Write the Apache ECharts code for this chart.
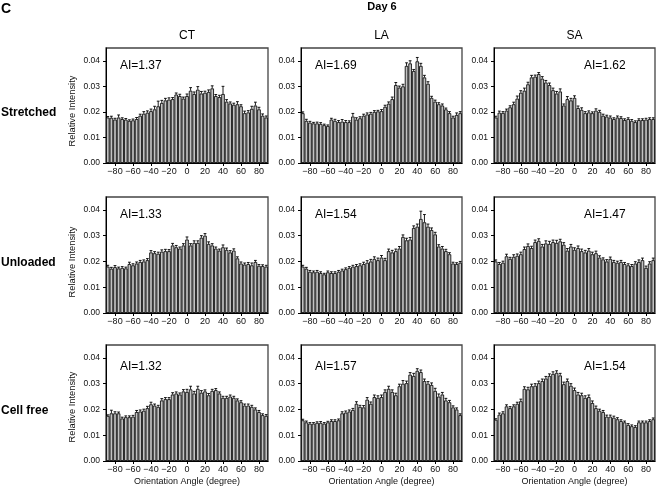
<!DOCTYPE html>
<html><head><meta charset="utf-8">
<script src="https://cdn.jsdelivr.net/npm/echarts@6/dist/echarts.min.js"></script>
<style>html,body{margin:0;padding:0;background:#fff}#c{width:656px;height:491px}</style>
</head><body><div id="c"></div>
<script>
// Bin centres (degrees)
const angleBins = [-88,-84,-80,-76,-72,-68,-64,-60,-56,-52,
  -48,-44,-40,-36,-32,-28,-24,-20,-16,-12,
  -8,-4,0,4,8,12,16,20,24,28,
  32,36,40,44,48,52,56,60,64,68,
  72,76,80,84,88];
const xTickValues = [-80,-60,-40,-20,0,20,40,60,80];
const yTickValues = [0,0.01,0.02,0.03,0.04];
const columnTitles = ['CT','LA','SA'];
const rowTitles = ['Stretched','Unloaded','Cell free'];
const aiLabels = [['AI=1.37','AI=1.69','AI=1.62'],['AI=1.33','AI=1.54','AI=1.47'],['AI=1.32','AI=1.57','AI=1.54']];

// ---- Stretched ----
const ctStretched = [0.0178,0.0177,0.0170,0.0178,0.0172,0.0170,0.0165,0.0167,0.0172,0.0185,
  0.0193,0.0197,0.0203,0.0210,0.0222,0.0235,0.0245,0.0248,0.0250,0.0268,
  0.0262,0.0252,0.0262,0.0283,0.0270,0.0287,0.0272,0.0275,0.0278,0.0292,
  0.0262,0.0258,0.0270,0.0240,0.0233,0.0228,0.0230,0.0222,0.0195,0.0198,
  0.0212,0.0225,0.0210,0.0185,0.0178];
const ctStretchedErr = [0.0004,0.0006,0.0005,0.0010,0.0005,0.0004,0.0004,0.0005,0.0006,0.0006,
  0.0008,0.0007,0.0008,0.0012,0.0020,0.0010,0.0008,0.0007,0.0006,0.0006,
  0.0007,0.0006,0.0008,0.0012,0.0008,0.0012,0.0008,0.0006,0.0008,0.0010,
  0.0006,0.0007,0.0030,0.0008,0.0006,0.0006,0.0010,0.0006,0.0008,0.0007,
  0.0010,0.0013,0.0008,0.0007,0.0006];
const laStretched = [0.0195,0.0165,0.0158,0.0155,0.0155,0.0153,0.0148,0.0145,0.0170,0.0165,
  0.0160,0.0162,0.0160,0.0160,0.0182,0.0170,0.0175,0.0185,0.0190,0.0193,
  0.0200,0.0202,0.0203,0.0220,0.0232,0.0250,0.0305,0.0295,0.0300,0.0380,
  0.0390,0.0360,0.0398,0.0380,0.0335,0.0310,0.0255,0.0240,0.0230,0.0225,
  0.0210,0.0195,0.0178,0.0188,0.0195];
const laStretchedErr = [0.0005,0.0006,0.0005,0.0004,0.0005,0.0005,0.0004,0.0004,0.0005,0.0006,
  0.0006,0.0008,0.0006,0.0005,0.0012,0.0007,0.0006,0.0006,0.0006,0.0005,
  0.0005,0.0004,0.0006,0.0006,0.0007,0.0008,0.0010,0.0006,0.0008,0.0012,
  0.0010,0.0006,0.0015,0.0010,0.0008,0.0008,0.0006,0.0006,0.0006,0.0006,
  0.0005,0.0006,0.0005,0.0008,0.0006];
const saStretched = [0.0178,0.0197,0.0196,0.0205,0.0218,0.0230,0.0252,0.0275,0.0283,0.0308,
  0.0335,0.0338,0.0348,0.0330,0.0315,0.0305,0.0285,0.0272,0.0280,0.0225,
  0.0250,0.0245,0.0255,0.0215,0.0208,0.0195,0.0198,0.0195,0.0205,0.0200,
  0.0185,0.0182,0.0178,0.0172,0.0178,0.0176,0.0168,0.0172,0.0165,0.0160,
  0.0168,0.0168,0.0170,0.0172,0.0172];
const saStretchedErr = [0.0005,0.0006,0.0005,0.0006,0.0006,0.0008,0.0010,0.0008,0.0010,0.0008,
  0.0008,0.0006,0.0006,0.0008,0.0008,0.0008,0.0008,0.0008,0.0010,0.0006,
  0.0010,0.0008,0.0008,0.0008,0.0008,0.0006,0.0006,0.0005,0.0007,0.0006,
  0.0006,0.0005,0.0006,0.0005,0.0006,0.0005,0.0005,0.0005,0.0005,0.0005,
  0.0005,0.0005,0.0005,0.0005,0.0005];

// ---- Unloaded ----
const ctUnloaded = [0.0180,0.0172,0.0178,0.0173,0.0175,0.0173,0.0190,0.0185,0.0192,0.0198,
  0.0200,0.0205,0.0235,0.0232,0.0230,0.0238,0.0240,0.0240,0.0262,0.0255,
  0.0250,0.0262,0.0285,0.0262,0.0272,0.0272,0.0292,0.0300,0.0268,0.0262,
  0.0250,0.0242,0.0255,0.0245,0.0235,0.0242,0.0212,0.0192,0.0188,0.0190,
  0.0185,0.0198,0.0183,0.0182,0.0180];
const ctUnloadedErr = [0.0005,0.0005,0.0006,0.0005,0.0005,0.0005,0.0007,0.0006,0.0006,0.0006,
  0.0006,0.0006,0.0007,0.0006,0.0006,0.0007,0.0007,0.0006,0.0008,0.0007,
  0.0006,0.0007,0.0010,0.0007,0.0008,0.0008,0.0008,0.0008,0.0008,0.0007,
  0.0006,0.0006,0.0009,0.0007,0.0007,0.0007,0.0006,0.0006,0.0006,0.0006,
  0.0009,0.0006,0.0005,0.0005,0.0005];
const laUnloaded = [0.0180,0.0172,0.0160,0.0158,0.0160,0.0155,0.0150,0.0158,0.0155,0.0155,
  0.0160,0.0165,0.0170,0.0175,0.0180,0.0182,0.0185,0.0190,0.0195,0.0200,
  0.0210,0.0205,0.0215,0.0205,0.0240,0.0235,0.0240,0.0250,0.0295,0.0282,
  0.0285,0.0330,0.0335,0.0365,0.0352,0.0335,0.0322,0.0305,0.0258,0.0250,
  0.0240,0.0228,0.0192,0.0190,0.0195];
const laUnloadedErr = [0.0005,0.0005,0.0005,0.0005,0.0005,0.0005,0.0004,0.0005,0.0005,0.0005,
  0.0005,0.0005,0.0005,0.0005,0.0005,0.0006,0.0006,0.0007,0.0008,0.0008,
  0.0008,0.0008,0.0008,0.0007,0.0008,0.0008,0.0008,0.0008,0.0008,0.0008,
  0.0008,0.0008,0.0010,0.0030,0.0030,0.0010,0.0008,0.0008,0.0007,0.0008,
  0.0007,0.0006,0.0005,0.0005,0.0005];
const saUnloaded = [0.0200,0.0190,0.0195,0.0220,0.0210,0.0218,0.0222,0.0228,0.0248,0.0260,
  0.0252,0.0275,0.0280,0.0258,0.0270,0.0268,0.0275,0.0272,0.0278,0.0265,
  0.0242,0.0258,0.0245,0.0252,0.0240,0.0235,0.0242,0.0228,0.0232,0.0215,
  0.0208,0.0200,0.0210,0.0198,0.0195,0.0198,0.0190,0.0185,0.0182,0.0192,
  0.0198,0.0205,0.0175,0.0192,0.0205];
const saUnloadedErr = [0.0006,0.0006,0.0006,0.0008,0.0006,0.0008,0.0007,0.0008,0.0008,0.0008,
  0.0007,0.0008,0.0008,0.0008,0.0010,0.0010,0.0008,0.0010,0.0008,0.0008,
  0.0008,0.0008,0.0008,0.0008,0.0008,0.0008,0.0008,0.0008,0.0008,0.0007,
  0.0006,0.0007,0.0007,0.0006,0.0006,0.0006,0.0006,0.0006,0.0006,0.0007,
  0.0008,0.0008,0.0007,0.0007,0.0008];

// ---- Cell free ----
const ctCellFree = [0.0175,0.0185,0.0185,0.0185,0.0165,0.0170,0.0170,0.0172,0.0190,0.0192,
  0.0195,0.0205,0.0220,0.0215,0.0210,0.0235,0.0240,0.0240,0.0258,0.0262,
  0.0258,0.0270,0.0268,0.0278,0.0262,0.0280,0.0265,0.0270,0.0255,0.0272,
  0.0275,0.0262,0.0245,0.0245,0.0250,0.0245,0.0235,0.0228,0.0215,0.0215,
  0.0210,0.0200,0.0190,0.0178,0.0175];
const ctCellFreeErr = [0.0004,0.0012,0.0006,0.0005,0.0005,0.0005,0.0005,0.0005,0.0006,0.0006,
  0.0006,0.0007,0.0008,0.0006,0.0006,0.0007,0.0006,0.0006,0.0007,0.0006,
  0.0006,0.0007,0.0010,0.0012,0.0008,0.0010,0.0008,0.0006,0.0007,0.0006,
  0.0006,0.0006,0.0006,0.0006,0.0006,0.0006,0.0006,0.0006,0.0006,0.0006,
  0.0006,0.0006,0.0006,0.0005,0.0005];
const laCellFree = [0.0158,0.0150,0.0145,0.0145,0.0148,0.0148,0.0145,0.0150,0.0155,0.0155,
  0.0158,0.0185,0.0188,0.0192,0.0198,0.0222,0.0210,0.0208,0.0238,0.0222,
  0.0248,0.0245,0.0248,0.0268,0.0280,0.0268,0.0255,0.0290,0.0300,0.0302,
  0.0335,0.0330,0.0350,0.0345,0.0310,0.0300,0.0295,0.0272,0.0250,0.0258,
  0.0235,0.0228,0.0208,0.0200,0.0178];
const laCellFreeErr = [0.0004,0.0005,0.0004,0.0004,0.0004,0.0005,0.0004,0.0004,0.0005,0.0005,
  0.0005,0.0006,0.0006,0.0006,0.0006,0.0008,0.0006,0.0007,0.0008,0.0007,
  0.0008,0.0008,0.0008,0.0008,0.0010,0.0008,0.0008,0.0008,0.0012,0.0008,
  0.0008,0.0010,0.0008,0.0008,0.0008,0.0008,0.0008,0.0010,0.0010,0.0008,
  0.0008,0.0007,0.0006,0.0006,0.0005];
const saCellFree = [0.0160,0.0180,0.0185,0.0212,0.0205,0.0212,0.0222,0.0232,0.0280,0.0278,
  0.0290,0.0292,0.0302,0.0310,0.0320,0.0330,0.0338,0.0342,0.0332,0.0298,
  0.0310,0.0292,0.0275,0.0258,0.0255,0.0245,0.0248,0.0225,0.0205,0.0195,
  0.0190,0.0172,0.0172,0.0168,0.0162,0.0155,0.0150,0.0140,0.0135,0.0132,
  0.0150,0.0150,0.0150,0.0155,0.0162];
const saCellFreeErr = [0.0004,0.0006,0.0006,0.0006,0.0006,0.0006,0.0006,0.0008,0.0008,0.0008,
  0.0008,0.0008,0.0008,0.0008,0.0008,0.0008,0.0008,0.0008,0.0008,0.0008,
  0.0008,0.0008,0.0008,0.0008,0.0008,0.0008,0.0008,0.0008,0.0008,0.0006,
  0.0006,0.0006,0.0006,0.0006,0.0006,0.0005,0.0005,0.0005,0.0005,0.0005,
  0.0005,0.0005,0.0005,0.0005,0.0005];

const panelValues = [[ctStretched, laStretched, saStretched],[ctUnloaded, laUnloaded, saUnloaded],[ctCellFree, laCellFree, saCellFree]];
const panelErrors = [[ctStretchedErr, laStretchedErr, saStretchedErr],[ctUnloadedErr, laUnloadedErr, saUnloadedErr],[ctCellFreeErr, laCellFreeErr, saCellFreeErr]];

// ---- layout ----
const FONT = 'Liberation Sans, Arial, Helvetica, sans-serif';
const colLeft = [106, 301, 494];
const colWidth = [162, 161, 161];
const rowTop = [48, 197, 345];
const rowHeight = [115, 116, 116];
const aiLeft = [120, 315, 584];
const aiY = [66, 215, 367];
const riY = [111, 262, 407];
const rowLabelY = [113, 263, 411];

const chart = echarts.init(document.getElementById('c'), null, {renderer: 'canvas'});
const grids = [], xAxes = [], yAxes = [], series = [];
const minus = v => String(v).replace('-', '\u2212');

function renderErr(params, api) {
  const x = api.value(0), v = api.value(1), e = api.value(2);
  const p0 = api.coord([x, v]);
  const p1 = api.coord([x, v + e]);
  const st = {stroke: '#000', lineWidth: 0.9};
  return {type: 'group', children: [
    {type: 'line', shape: {x1: p0[0], y1: p0[1], x2: p1[0], y2: p1[1]}, style: st},
    {type: 'line', shape: {x1: p1[0] - 1.4, y1: p1[1], x2: p1[0] + 1.4, y2: p1[1]}, style: st}
  ]};
}

for (let r = 0; r < 3; r++) {
  for (let c = 0; c < 3; c++) {
    const g = r * 3 + c;
    grids.push({left: colLeft[c], top: rowTop[r], width: colWidth[c], height: rowHeight[r],
      show: true, borderColor: '#444', borderWidth: 1.3, backgroundColor: 'transparent', containLabel: false});
    xAxes.push({type: 'category', gridIndex: g, data: angleBins, show: false, boundaryGap: true});
    xAxes.push({type: 'value', gridIndex: g, min: -90, max: 90, position: 'bottom',
      axisLine: {show: true, onZero: false, lineStyle: {color: '#000', width: 1}},
      axisTick: {show: true, length: 3, customValues: xTickValues, lineStyle: {color: '#000'}},
      axisLabel: {show: true, customValues: xTickValues, fontSize: 9, margin: 4, color: '#111', fontFamily: FONT, formatter: minus},
      splitLine: {show: false}});
    yAxes.push({type: 'value', gridIndex: g, min: 0, max: 0.045, position: 'left',
      axisLine: {show: true, onZero: false, lineStyle: {color: '#000', width: 1}},
      axisTick: {show: true, length: 3, customValues: yTickValues, lineStyle: {color: '#000'}},
      axisLabel: {show: true, customValues: yTickValues, fontSize: 8.5, margin: 6, color: '#111', fontFamily: FONT,
        formatter: v => v.toFixed(2)},
      splitLine: {show: false}});
    const vals = panelValues[r][c], errs = panelErrors[r][c];
    series.push({type: 'bar', xAxisIndex: 2 * g, yAxisIndex: g, data: vals, barCategoryGap: '0%',
      itemStyle: {color: '#c2c2c2', borderColor: '#111', borderWidth: 0.9}, silent: true, animation: false});
    series.push({type: 'custom', xAxisIndex: 2 * g, yAxisIndex: g, renderItem: renderErr,
      data: vals.map((v, i) => [i, v, errs[i]]), encode: {x: 0, y: 1}, z: 5, silent: true, animation: false});
  }
}

const graphics = [];
graphics.push({type: 'text', left: 1, top: 2, style: {text: 'C', font: 'bold 14px ' + FONT, fill: '#000'}});
graphics.push({type: 'text', x: 382, y: 7, style: {text: 'Day 6', font: 'bold 11px ' + FONT, fill: '#000', align: 'center', verticalAlign: 'middle'}});
const colCenter = [187, 381.5, 574.5];
for (let c = 0; c < 3; c++) {
  graphics.push({type: 'text', x: colCenter[c], y: 36, style: {text: columnTitles[c], font: '12px ' + FONT, fill: '#000', align: 'center', verticalAlign: 'middle'}});
  graphics.push({type: 'text', x: colCenter[c], y: 482, style: {text: 'Orientation Angle (degree)', font: '9px ' + FONT, fill: '#111', align: 'center', verticalAlign: 'middle'}});
}
for (let r = 0; r < 3; r++) {
  graphics.push({type: 'text', x: 1, y: rowLabelY[r], style: {text: rowTitles[r], font: 'bold 12px ' + FONT, fill: '#000', align: 'left', verticalAlign: 'middle'}});
  graphics.push({type: 'text', x: 72, y: riY[r], rotation: Math.PI / 2, style: {text: 'Relative Intensity', font: '9.3px ' + FONT, fill: '#111', align: 'center', verticalAlign: 'middle'}});
  for (let c = 0; c < 3; c++) {
    graphics.push({type: 'text', x: aiLeft[c], y: aiY[r], z: 10, style: {text: aiLabels[r][c], font: '12px ' + FONT, fill: '#000', align: 'left', verticalAlign: 'middle'}});
  }
}

chart.setOption({
  animation: false,
  backgroundColor: '#fff',
  grid: grids, xAxis: xAxes, yAxis: yAxes, series: series,
  graphic: graphics
});
</script></body></html>
